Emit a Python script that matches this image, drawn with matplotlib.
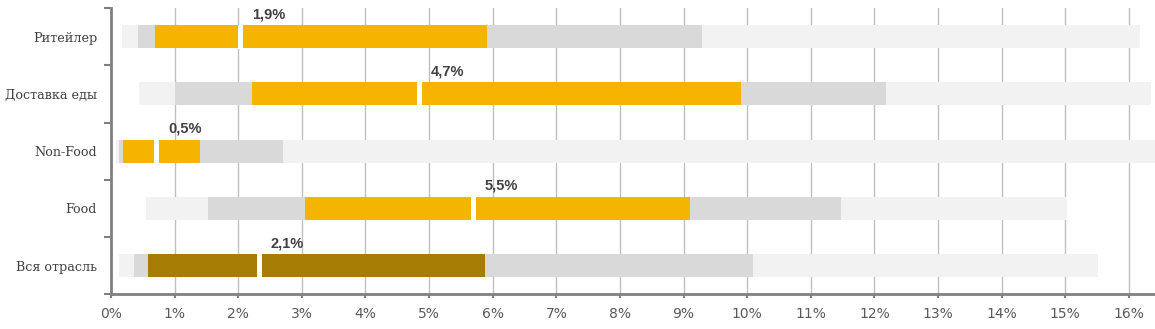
import matplotlib
matplotlib.use("Agg")
import matplotlib.pyplot as plt
from matplotlib.ticker import FixedLocator, FuncFormatter

# Data (bottom to top)
categories = ['Вся отрасль', 'Food', 'Non-Food', 'Доставка еды', 'Ритейлер']
mins   = [0.13, 0.55, 0.08, 0.44, 0.17]
p10    = [0.36, 1.52, 0.13, 1.01, 0.42]
p25    = [0.58, 3.05, 0.19, 2.22, 0.69]
medpos = [2.33, 5.70, 0.72, 4.85, 2.04]
p75    = [5.88, 9.10, 1.40, 9.90, 5.91]
p90    = [10.09, 11.47, 2.70, 12.18, 9.29]
maxs   = [15.52, 15.02, 16.60, 16.34, 16.18]
median_labels = ['2,1%', '5,5%', '0,5%', '4,7%', '1,9%']
x_ticks = list(range(0, 17))

LIGHT = '#F2F2F2'
MID = '#D9D9D9'
ORANGE = '#F5B400'
DARK = '#A67C05'
core_colors = [DARK, ORANGE, ORANGE, ORANGE, ORANGE]

fig = plt.figure(figsize=(11.55, 3.29), dpi=100)
ax = fig.add_axes([111/1155, 34.7/329, 1 - 111/1155, (294.3 - 8)/329])

ypos = list(range(len(categories)))
h = 0.4
gap = 0.08
for i in ypos:
    ax.barh(i, maxs[i] - mins[i], left=mins[i], height=h, color=LIGHT, zorder=2)
    ax.barh(i, p90[i] - p10[i], left=p10[i], height=h, color=MID, zorder=3)
    ax.barh(i, p75[i] - p25[i], left=p25[i], height=h, color=core_colors[i], zorder=4)
    ax.barh(i, gap, left=medpos[i] - gap / 2, height=h + 0.02, color='white', zorder=5)
    ax.annotate(median_labels[i], xy=(medpos[i], i + h / 2), xytext=(8.0, 8),
                textcoords='offset points', ha='left', va='center',
                fontsize=10.5, fontweight='bold', color='#404040',
                family='Liberation Sans', zorder=6)

ax.set_xlim(0, 16.41)
ax.set_ylim(-0.5, 4.5)

ax.xaxis.set_major_locator(FixedLocator(x_ticks))
ax.xaxis.set_major_formatter(FuncFormatter(lambda v, p: f'{int(round(v))}%'))
ax.tick_params(axis='x', length=3, width=1.5, color='#808080', labelcolor='#595959',
               labelsize=10, pad=6)
ax.grid(axis='x', color='#BFBFBF', linewidth=1, zorder=1)
ax.set_axisbelow(True)

ax.set_yticks(ypos)
ax.set_yticklabels(categories, family='DejaVu Serif', fontsize=9.2, color='#404040')
ax.tick_params(axis='y', which='major', length=0, pad=10)
ax.yaxis.set_minor_locator(FixedLocator([-0.5, 0.5, 1.5, 2.5, 3.5, 4.5]))
ax.tick_params(axis='y', which='minor', length=5, width=1.5, color='#808080')

for s in ['top', 'right']:
    ax.spines[s].set_visible(False)
for s in ['left', 'bottom']:
    ax.spines[s].set_color('#808080')
    ax.spines[s].set_linewidth(2)

fig.savefig('out.png', dpi=100)
